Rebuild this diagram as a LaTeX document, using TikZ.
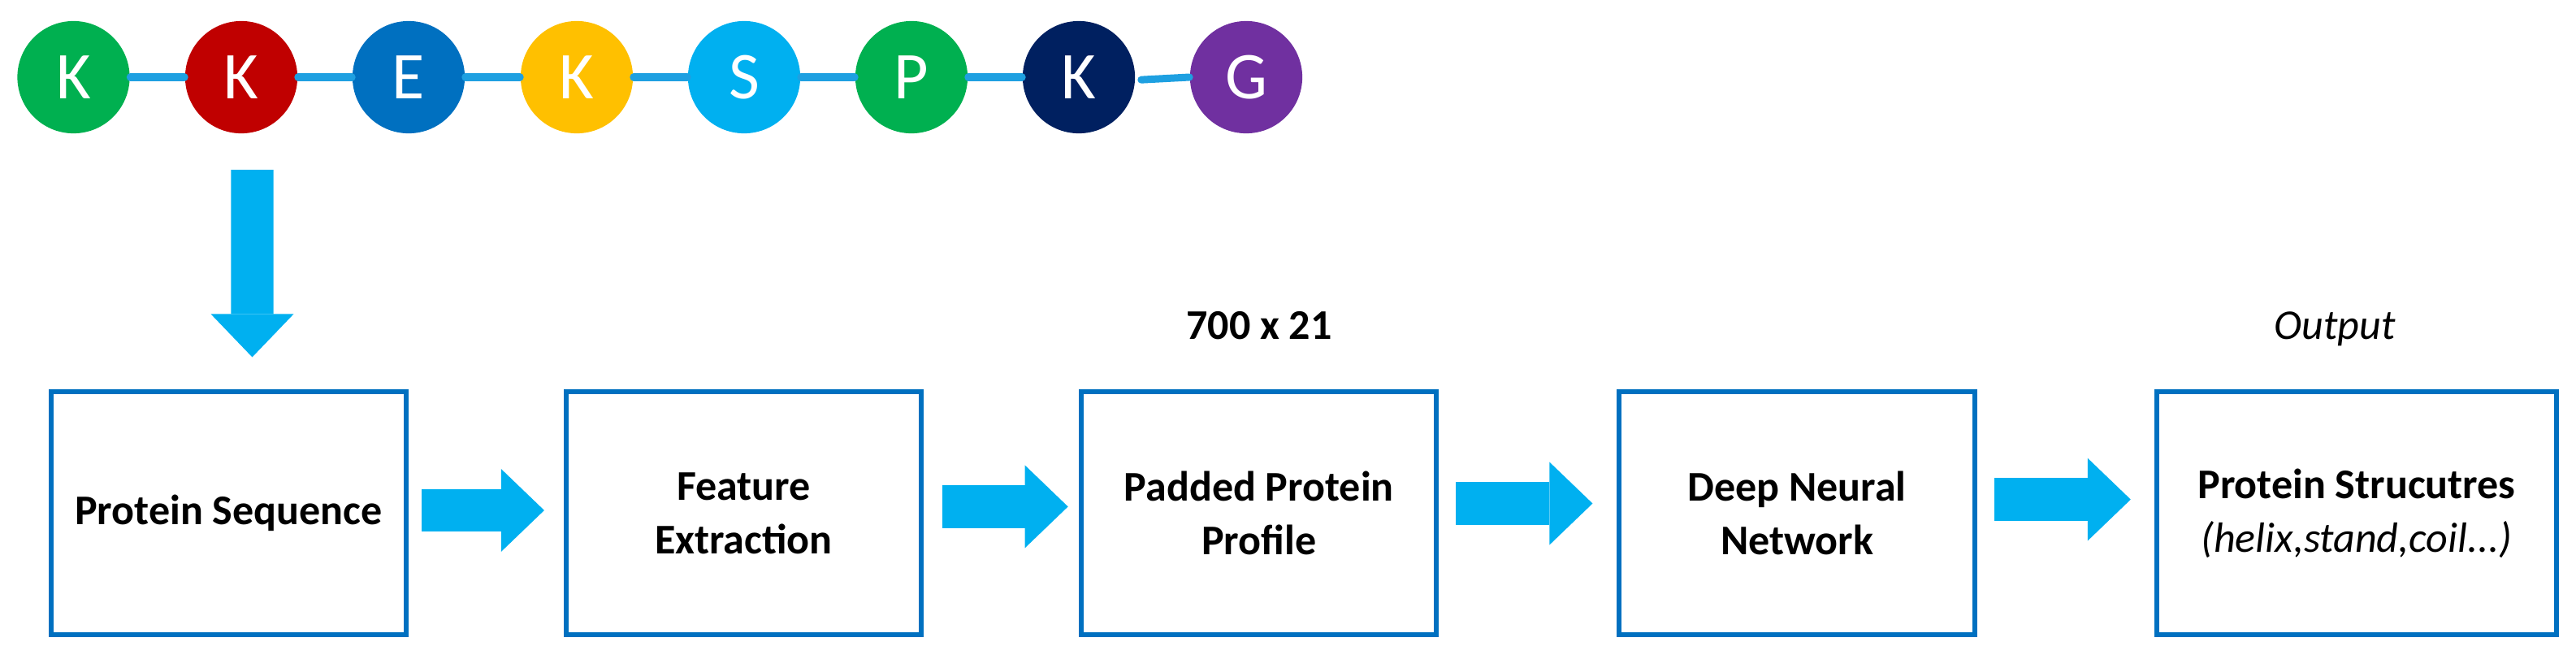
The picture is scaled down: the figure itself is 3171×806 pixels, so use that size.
\documentclass[tikz,border=0pt]{standalone}
\usepackage{fontspec}
\setmainfont{Carlito}
\usepackage{tikz}
\usetikzlibrary{arrows.meta}

\definecolor{aagreen}{RGB}{0,176,80}
\definecolor{aared}{RGB}{192,0,0}
\definecolor{aablue}{RGB}{0,112,192}
\definecolor{aagold}{RGB}{255,192,0}
\definecolor{aasky}{RGB}{0,176,240}
\definecolor{aanavy}{RGB}{0,32,96}
\definecolor{aapurple}{RGB}{112,48,160}
\definecolor{chainblue}{RGB}{30,160,225}
\definecolor{boxblue}{RGB}{0,112,192}
\definecolor{arrowblue}{RGB}{0,176,240}

\tikzset{
    residue/.style={circle, minimum size=39.3pt, inner sep=0pt, text=white,
        font=\fontsize{23.4pt}{28pt}\selectfont},
    chainline/.style={draw=chainblue, line width=2.56pt, line cap=round},
    stagebox/.style={draw=boxblue, line width=1.7pt, minimum width=124.3pt,
        minimum height=85.1pt, inner sep=0pt, align=center,
        font=\fontsize{14.8pt}{18.7pt}\selectfont\bfseries},
    flowarrow/.style={draw=arrowblue, line width=14.9pt,
        -{Triangle[length=15.1pt, width=29pt, line width=0pt]}}
}

\begin{document}
\begin{tikzpicture}[x=0.01cm, y=-0.01cm]
    \useasboundingbox (0,0) rectangle (3171,806);

    % Amino acid chain
    \node[residue, fill=aagreen]  (k1) at (90.5, 95) {K};
    \node[residue, fill=aared]    (k2) at (297, 95) {K};
    \node[residue, fill=aablue]   (e)  at (503, 95) {E};
    \node[residue, fill=aagold]   (k3) at (710, 95) {K};
    \node[residue, fill=aasky]    (s)  at (916, 95) {S};
    \node[residue, fill=aagreen]  (p)  at (1122, 95) {P};
    \node[residue, fill=aanavy]   (k4) at (1328, 95) {K};
    \node[residue, fill=aapurple] (g)  at (1534, 95) {G};

    % Bonds between the residues
    \draw[chainline] (k1) -- (k2);
    \draw[chainline] (k2) -- (e);
    \draw[chainline] (e) -- (k3);
    \draw[chainline] (k3) -- (s);
    \draw[chainline] (s) -- (p);
    \draw[chainline] (p) -- (k4);
    \draw[chainline] ([xshift=2pt, yshift=-0.9pt]k4.east) -- (g.west);

    % Pipeline stages
    \node[stagebox] (seq) at (281.5, 631.5) {Protein Sequence};
    \node[stagebox] (feat) at (915.5, 631.5) {Feature\\Extraction};
    \node[stagebox] (pad) at (1549.75, 631.5) {Padded Protein\\Profile};
    \node[stagebox] (dnn) at (2212, 631.5) {Deep Neural\\Network};
    \node[stagebox, minimum width=140pt] (out) at (2901, 631.5)
        {Protein Strucutres\\\mdseries\itshape (helix,stand,coil...)};

    % Labels above the stages
    \node[anchor=base, font=\fontsize{14.8pt}{18.7pt}\selectfont\bfseries]
        (dims) at (1550, 417) {700 x 21};
    \node[anchor=base, font=\fontsize{14.8pt}{18.7pt}\selectfont\itshape]
        (outlabel) at (2874, 417) {Output};

    % Sequence goes into the pipeline
    \draw[flowarrow, shorten <=12.5pt, shorten >=11.2pt]
        ([xshift=3.84pt]k2.south) -- ([xshift=8.25pt]seq.north);

    % Arrows between the stages
    \draw[flowarrow, shorten <=4.55pt, shorten >=6.83pt]
        ([yshift=1pt]seq.east) -- ([yshift=1pt]feat.west);
    \draw[flowarrow, shorten <=6.54pt, shorten >=3.84pt]
        ([yshift=2.3pt]feat.east) -- ([yshift=2.3pt]pad.west);
    \draw[flowarrow, shorten <=5.97pt, shorten >=8.53pt]
        ([yshift=3.4pt]pad.east) -- ([yshift=3.4pt]dnn.west);
    \draw[flowarrow, shorten <=5.97pt, shorten >=8.25pt]
        ([yshift=4.8pt]dnn.east) -- ([yshift=4.8pt]out.west);
\end{tikzpicture}
\end{document}
